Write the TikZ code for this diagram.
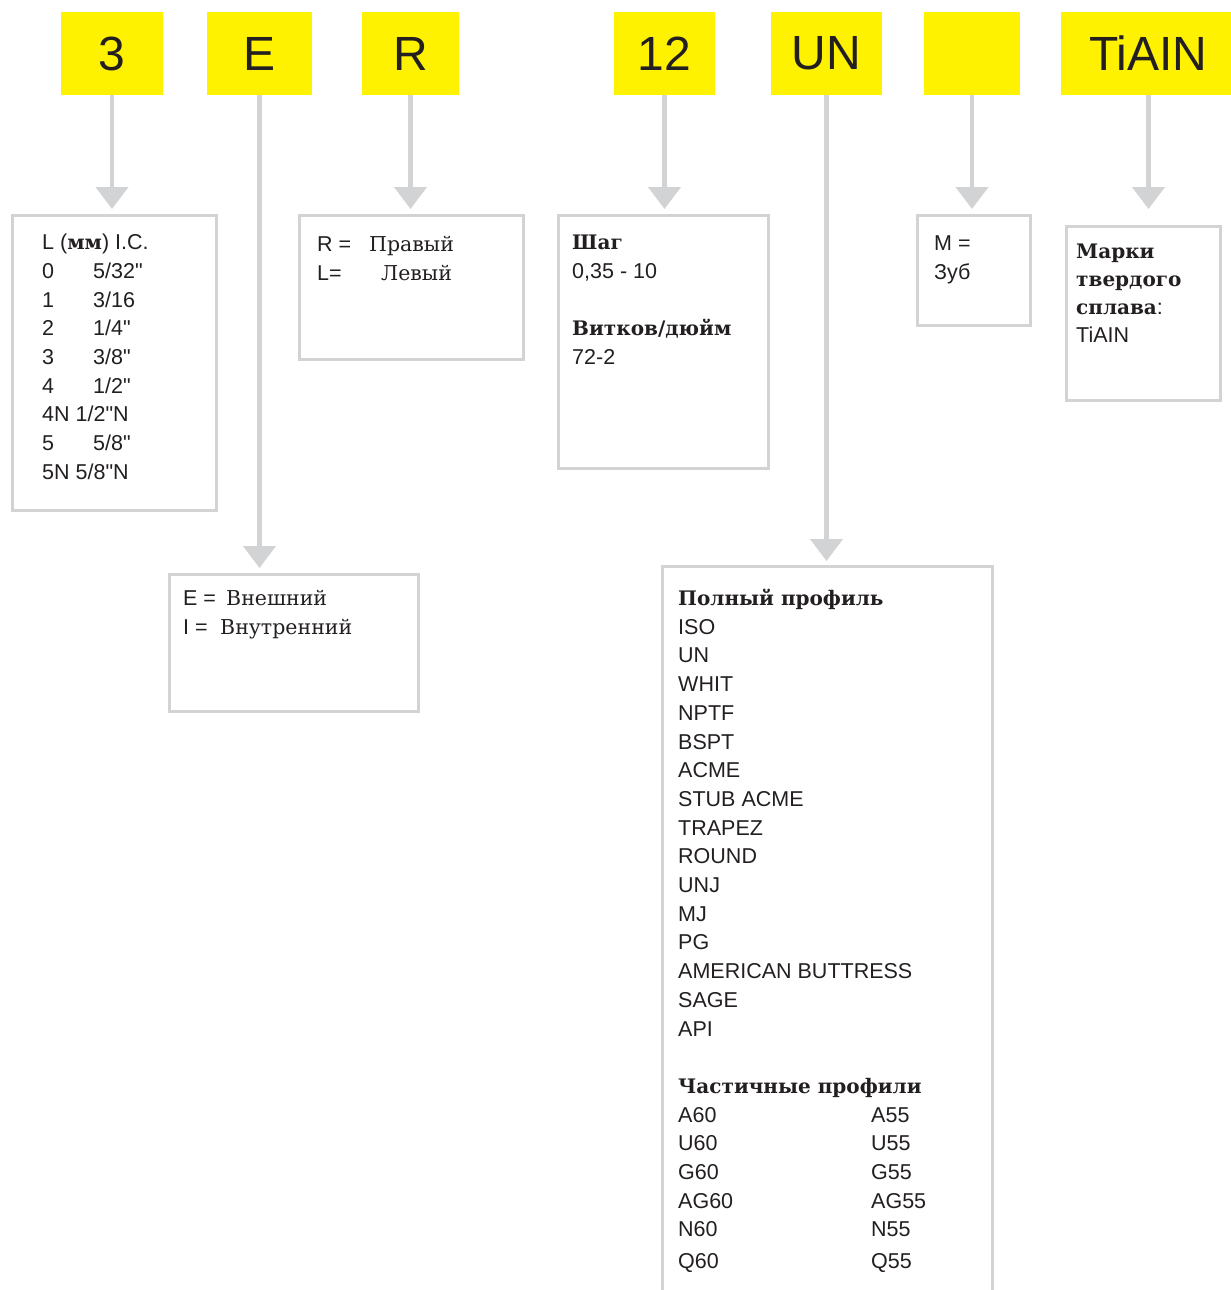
\documentclass[tikz,border=0pt]{standalone}
\usepackage{fontspec}
\setmainfont{Liberation Sans}[Ligatures=TeXOff]
\newfontfamily\rusfont{DejaVu Serif}
\usetikzlibrary{arrows.meta}

\definecolor{codeyellow}{HTML}{FFF200}
\definecolor{arrowgray}{HTML}{D1D3D4}
\definecolor{inkgray}{HTML}{231F20}

% serif words inside the key boxes
\newcommand{\rusbold}[1]{{\rusfont\bfseries\fontsize{20}{28.7}\selectfont #1}}
\newcommand{\rusword}[1]{{\rusfont\fontsize{20.5}{28.7}\selectfont #1}}

\begin{document}
\begin{tikzpicture}[
        x=1pt, y=-1pt,
        codebox/.style={fill=codeyellow, text=inkgray, inner sep=0pt, minimum height=83pt,
            font=\fontsize{48}{48}\selectfont},
        infobox/.style={draw=arrowgray, line width=3pt, inner sep=0pt, anchor=north west},
        infotext/.style={anchor=north west, inner sep=0pt, align=left, text=inkgray,
            font=\fontsize{21.5}{28.7}\selectfont},
        pointer/.style={draw=arrowgray, line width=4.5pt,
            -{Triangle[width=32pt,length=22pt]}, shorten >=5pt},
        ]

        \useasboundingbox (0,0) rectangle (1231,1290);
        \clip (0,0) rectangle (1231,1290);

        % Code letters
        \node[codebox, minimum width=102pt] (ic) at (112,53.5) {3};
        \node[codebox, minimum width=105pt] (hand) at (259.5,53.5) {E};
        \node[codebox, minimum width=97pt] (dir) at (410.5,53.5) {R};
        \node[codebox, minimum width=101pt] (pitch) at (664.5,53.5) {12};
        \node[codebox, minimum width=111pt] (profile) at (826.5,53.5) {UN};
        \node[codebox, minimum width=96pt] (teeth) at (972,53.5) {};
        \node[codebox, minimum width=175pt] (grade) at (1148.5,53.5) {TiAIN};

        % Boxes
        \node[infobox, minimum width=204pt, minimum height=295pt] (icbox) at (11,214) {};
        \node[infobox, minimum width=224pt, minimum height=144pt] (dirbox) at (298,214) {};
        \node[infobox, minimum width=249pt, minimum height=137pt] (handbox) at (168,573) {};
        \node[infobox, minimum width=210pt, minimum height=253pt] (pitchbox) at (557,214) {};
        \node[infobox, minimum width=113pt, minimum height=110pt] (teethbox) at (916,214) {};
        \node[infobox, minimum width=154pt, minimum height=174pt] (gradebox) at (1065,225) {};
        \node[infobox, minimum width=330pt, minimum height=760pt] (profilebox) at (661,565) {};

        % Texts
        \node[infotext] (ictext) at (42,234) {L (\rusbold{мм}) I.C.\\
            \makebox[51pt][l]{0}5/32"\\
            \makebox[51pt][l]{1}3/16\\
            \makebox[51pt][l]{2}1/4"\\
            \makebox[51pt][l]{3}3/8"\\
            \makebox[51pt][l]{4}1/2"\\
            4N 1/2"N\\
            \makebox[51pt][l]{5}5/8"\\
            5N 5/8"N};
        \node[infotext] (dirtext) at (317,236) {\makebox[52pt][l]{R =}\rusword{Правый}\\
            \makebox[64pt][l]{L=}\rusword{Левый}};
        \node[infotext] (handtext) at (183,590) {\makebox[43pt][l]{E =}\rusword{Внешний}\\
            \makebox[37pt][l]{I =}\rusword{Внутренний}};
        \node[infotext] (pitchtext) at (572,235) {\rusbold{Шаг}\\
            0,35 - 10\\[28.7pt]
            \rusbold{Витков/дюйм}\\
            72-2};
        \node[infotext] (teethtext) at (934,236) {M =\\ Зуб};
        \node[infotext, font=\fontsize{21.5}{28}\selectfont] (gradetext) at (1076,244) {\rusbold{Марки}\\
            \rusbold{твердого}\\
            \rusbold{сплава}:\\
            TiAIN};
        \node[infotext] (profiletext) at (678,589) {\rusbold{Полный профиль}\\
            ISO\\ UN\\ WHIT\\ NPTF\\ BSPT\\ ACME\\ STUB ACME\\ TRAPEZ\\ ROUND\\
            UNJ\\ MJ\\ PG\\ AMERICAN BUTTRESS\\ SAGE\\ API\\[28.7pt]
            \rusbold{Частичные профили}\\
            \makebox[193pt][l]{A60}A55\\
            \makebox[193pt][l]{U60}U55\\
            \makebox[193pt][l]{G60}G55\\
            \makebox[193pt][l]{AG60}AG55\\
            \makebox[193pt][l]{N60}N55\\[3pt]
            \makebox[193pt][l]{Q60}Q55};

        % Arrows
        \draw[pointer] (ic.south) -- (ic.south |- icbox.north);
        \draw[pointer] (hand.south) -- (hand.south |- handbox.north);
        \draw[pointer] (dir.south) -- (dir.south |- dirbox.north);
        \draw[pointer] (pitch.south) -- (pitch.south |- pitchbox.north);
        \draw[pointer, shorten >=4pt] (profile.south) -- (profile.south |- profilebox.north);
        \draw[pointer] (teeth.south) -- (teeth.south |- teethbox.north);
        \draw[pointer, shorten >=16pt] (grade.south) -- (grade.south |- gradebox.north);

    \end{tikzpicture}
\end{document}
